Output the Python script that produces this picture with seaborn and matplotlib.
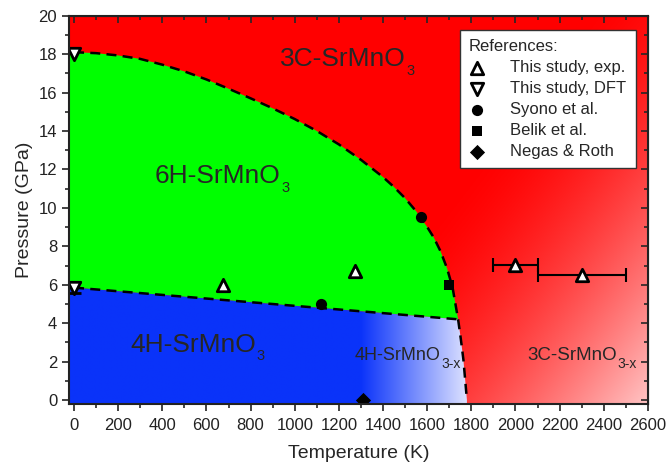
import numpy as np
import matplotlib
matplotlib.use("Agg")
import matplotlib.pyplot as plt
import seaborn as sns
from matplotlib.patches import Polygon

# phase boundaries (T in K, P in GPa)
bound_3c_T = [0, 100, 200, 300, 400, 500, 600, 700, 800, 900, 1000, 1100, 1200, 1300, 1400,
              1450, 1500, 1550, 1600, 1630, 1660, 1690, 1715, 1740, 1752, 1764, 1772, 1780]
bound_3c_P = [18.1, 18.05, 17.93, 17.75, 17.45, 17.1, 16.68, 16.2, 15.7, 15.18, 14.62, 14.0, 13.3, 12.5, 11.6,
              11.08, 10.5, 9.82, 9.0, 8.45, 7.75, 6.85, 5.85, 4.2, 3.2, 2.1, 1.05, 0.0]
bound_4h_T = [0, 1740]
bound_4h_P = [5.85, 4.2]

# data points
exp_T = [675, 1275, 2000, 2300]
exp_P = [6.0, 6.7, 7.05, 6.5]
exp_dT = [0, 0, 100, 200]
dft_T = [0, 0]
dft_P = [18.0, 5.85]
dft_dP = [0, 0.3]
syono_T = [1120, 1570]
syono_P = [5.0, 9.5]
belik_T = [1700]
belik_P = [6.0]
negas_T = [1310]
negas_P = [0.0]

xmin, xmax, ymin, ymax = -23, 2600, -0.2, 20

sns.set_style("ticks")
plt.rcParams['font.family'] = ['Liberation Sans', 'DejaVu Sans']

fig = plt.figure(figsize=(6.67, 4.68), dpi=100)
ax = fig.add_axes([0.1034, 0.137, 0.868, 0.8295])

# background: 3C region with gradient towards bottom right
gx = np.linspace(xmin, xmax, 700)
gy = np.linspace(ymin, ymax, 500)
GX, GY = np.meshgrid(gx, gy)
s = np.clip(((GX - 1800) / 800 + (12 - GY) / 12) / 2, 0, 1)
w = 0.76 * s ** 1.6
red_img = np.dstack([np.ones_like(w), w, w])
ax.imshow(red_img, extent=[xmin, xmax, ymin, ymax], origin='lower', aspect='auto', zorder=0)

j = bound_3c_T.index(bound_4h_T[-1])

# 6H region
green_x = [xmin] + bound_3c_T[:j + 1] + bound_4h_T[::-1] + [xmin]
green_y = [bound_3c_P[0]] + bound_3c_P[:j + 1] + bound_4h_P[::-1] + [bound_4h_P[0]]
ax.fill(green_x, green_y, color='#00FF00', lw=0, zorder=1)

# 4H region, fading out towards the oxygen deficient part
blue_x = [xmin] + bound_4h_T + bound_3c_T[j + 1:] + [bound_3c_T[-1], xmin]
blue_y = [bound_4h_P[0]] + bound_4h_P + bound_3c_P[j + 1:] + [ymin, ymin]
bw = np.clip((GX - 1300) / 470, 0, 1)[..., None]
blue = np.array([0.04, 0.2, 0.98])
lav = np.array([0.85, 0.87, 1.0])
blue_img = blue * (1 - bw) + lav * bw
im = ax.imshow(blue_img, extent=[xmin, xmax, ymin, ymax], origin='lower', aspect='auto', zorder=1)
poly = Polygon(np.column_stack([blue_x, blue_y]), closed=True, transform=ax.transData,
               facecolor='none', lw=0)
ax.add_patch(poly)
im.set_clip_path(poly)

# boundaries
ax.plot(bound_3c_T, bound_3c_P, color='black', lw=1.8, ls=(0, (4, 2.5)), zorder=3)
ax.plot(bound_4h_T, bound_4h_P, color='black', lw=1.8, ls=(0, (4, 2.5)), zorder=3)

# error bars
exp_T_a, exp_P_a, exp_dT_a = np.array(exp_T), np.array(exp_P), np.array(exp_dT)
m = exp_dT_a > 0
ax.errorbar(exp_T_a[m], exp_P_a[m], xerr=exp_dT_a[m], fmt='none', ecolor='black',
            elinewidth=1.5, capsize=5, capthick=1.5, zorder=4)
dft_T_a, dft_P_a, dft_dP_a = np.array(dft_T), np.array(dft_P), np.array(dft_dP)
m = dft_dP_a > 0
ax.errorbar(dft_T_a[m], dft_P_a[m], yerr=dft_dP_a[m], fmt='none', ecolor='black',
            elinewidth=1.5, capsize=5, capthick=2, zorder=4)

# points
sns.scatterplot(x=exp_T, y=exp_P, marker='^', s=80, color='white', edgecolor='black',
                linewidth=2, label='This study, exp.', ax=ax, zorder=5)
sns.scatterplot(x=dft_T, y=dft_P, marker='v', s=80, color='white', edgecolor='black',
                linewidth=2, label='This study, DFT', ax=ax, zorder=5)
sns.scatterplot(x=syono_T, y=syono_P, marker='o', s=65, color='black', edgecolor='black',
                linewidth=0, label='Syono et al.', ax=ax, zorder=5)
sns.scatterplot(x=belik_T, y=belik_P, marker='s', s=55, color='black', edgecolor='black',
                linewidth=0, label='Belik et al.', ax=ax, zorder=5)
sns.scatterplot(x=negas_T, y=negas_P, marker='D', s=60, color='black', edgecolor='black',
                linewidth=0, label='Negas & Roth', ax=ax, zorder=5)


def phase_label(x, y, main, sub, size, subsize, drop):
    t = ax.text(x, y, main, fontsize=size, va='baseline', zorder=6)
    ax.annotate(sub, xy=(1, y), xycoords=(t, 'data'), xytext=(0.3, -drop),
                textcoords='offset points', fontsize=subsize, va='top', ha='left', zorder=6)


phase_label(933, 17.38, "3C-SrMnO", "3", 19, 10.5, -1.8)
phase_label(367, 11.27, "6H-SrMnO", "3", 19, 10.5, -1.8)
phase_label(254, 2.51, "4H-SrMnO", "3", 19, 10.5, -1.8)
phase_label(1273, 2.08, "4H-SrMnO", "3-x", 13, 10, -2.5)
phase_label(2052, 2.08, "3C-SrMnO", "3-x", 13.5, 10, -2.5)

ax.set_xlim(xmin, xmax)
ax.set_ylim(ymin, ymax)
ax.set_xticks(np.arange(0, 2601, 200))
ax.set_yticks(np.arange(0, 21, 2))
ax.set_xticks(np.arange(0, 2601, 100), minor=True)
ax.set_yticks(np.arange(0, 21, 1), minor=True)
ax.tick_params(which='major', direction='out', length=5, width=1.2, labelsize=12, colors='#222222')
ax.tick_params(which='minor', direction='out', length=3, width=1.2)
ax.tick_params(axis='x', which='major', pad=5)
for sp in ax.spines.values():
    sp.set_linewidth(1.5)
    sp.set_color('#222222')
    sp.set_zorder(10)

top = ax.secondary_xaxis('top')
top.set_xticks(np.arange(0, 2601, 200))
top.set_xticks(np.arange(0, 2601, 100), minor=True)
top.tick_params(which='major', direction='in', length=5, width=1.2, labeltop=False)
top.tick_params(which='minor', direction='in', length=3, width=1.2)
right = ax.secondary_yaxis('right')
right.set_yticks(np.arange(0, 21, 2))
right.set_yticks(np.arange(0, 21, 1), minor=True)
right.tick_params(which='major', direction='in', length=5, width=1.2, labelright=False)
right.tick_params(which='minor', direction='in', length=3, width=1.2)

ax.set_xlabel("Temperature (K)", fontsize=14, labelpad=9)
ax.set_ylabel("Pressure (GPa)", fontsize=14, labelpad=4)

leg = ax.legend(title="References:", alignment='left', loc='upper right',
                bbox_to_anchor=(0.979, 0.963), borderaxespad=0, fontsize=12,
                title_fontsize=12, frameon=True, fancybox=False, framealpha=1,
                edgecolor='#333333', handletextpad=1.5, labelspacing=0.36,
                handlelength=1.0, borderpad=0.55)
leg.get_frame().set_linewidth(1.0)
leg.set_zorder(20)

fig.savefig("out.png", dpi=100)
